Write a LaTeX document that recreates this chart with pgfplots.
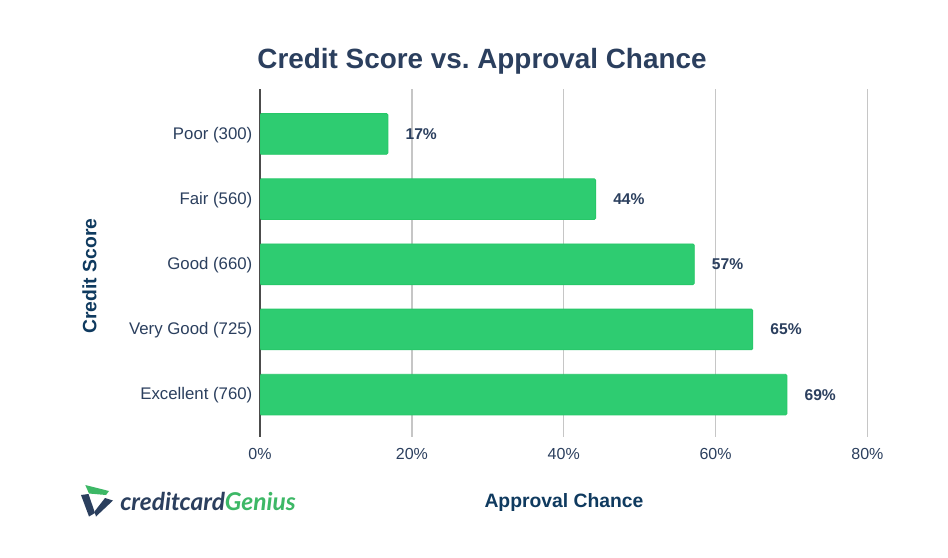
\documentclass[border=0pt]{standalone}
\usepackage{pgfplots}
\usepackage{pgfplotstable}
\usepackage{fontspec}
\setmainfont{Liberation Sans}
\newfontfamily\logofont{Lato}
\pgfplotsset{compat=1.18}
\frenchspacing
\definecolor{navy}{HTML}{2B3F5E}
\definecolor{labnavy}{HTML}{0F3A5F}
\definecolor{barfill}{HTML}{2ECC71}
\definecolor{barline}{HTML}{27C768}
\definecolor{gridc}{HTML}{C6C6C6}
\definecolor{logogreen}{HTML}{3DB866}
\pgfplotstableread{
y val lab
0 16.85 17
1 44.2 44
2 57.2 57
3 64.9 65
4 69.4 69
}\scores
\begin{document}
\begin{tikzpicture}[x=0.75pt,y=-0.75pt]
\path[use as bounding box,fill=white] (0,0) rectangle (948,557);
\begin{axis}[
  at={(195pt,-327.75pt)},anchor=south west,
  scale only axis,
  width=455.6pt,height=261pt,
  xmin=0,xmax=80,ymin=-0.69,ymax=4.65,
  y dir=reverse,
  axis y line=left,axis x line=bottom,
  x axis line style={draw=none,-},
  y axis line style={draw=black!70,line width=1.2pt,-},
  xtick={0,20,40,60,80},
  ytick={0,1,2,3,4},
  yticklabels={Poor (300),Fair (560),Good (660),Very Good (725),Excellent (760)},
  xticklabel={\pgfmathprintnumber{\tick}\%},
  /pgf/number format/assume math mode=true,
  major tick length=0pt,
  xmajorgrids,
  major grid style={draw=gridc,line width=1.1pt},
  xticklabel style={font=\fontsize{12}{14}\selectfont,text=navy,yshift=-5pt},
  yticklabel style={font=\fontsize{12.6}{14}\selectfont,text=navy,xshift=-2.2pt,yshift=-0.6pt},
  xbar,
  bar width=30.5pt,
  nodes near coords={\pgfplotspointmeta\%},
  point meta=explicit symbolic,
]
\addplot[fill=barfill,draw=barline,line width=0.6pt,rounded corners=1pt,
  nodes near coords style={font=\fontsize{11.7}{13}\selectfont\bfseries,text=navy,anchor=west,xshift=9.6pt}]
  table[x=val,y=y,meta=lab] {\scores};
\end{axis}
\node[font=\fontsize{20.9}{24}\selectfont\bfseries,text=navy] at (482,61) {Credit Score vs. Approval Chance};
\node[font=\fontsize{14.5}{16}\selectfont\bfseries,text=labnavy,rotate=90] at (89.5,276) {Credit Score};
\node[font=\fontsize{14.5}{16}\selectfont\bfseries,text=labnavy] at (564,502.5) {Approval Chance};
% logo
\fill[logogreen] (85.3,485) -- (109,491) -- (106,495) -- (89,493.5) -- cycle;
\fill[navy] (81,495) -- (88.5,494) -- (95,513) -- (89,516.5) -- cycle;
\fill[navy] (96,516.5) -- (94.5,511.5) -- (105,498) -- (113,500.5) -- cycle;
\node[anchor=west,inner sep=0pt,font=\fontsize{18.4}{22}\selectfont\logofont\itshape] at (120,501.5)
  {\textcolor{navy}{\bfseries creditcard}\textcolor{logogreen}{\bfseries Genius}};
\end{tikzpicture}
\end{document}
